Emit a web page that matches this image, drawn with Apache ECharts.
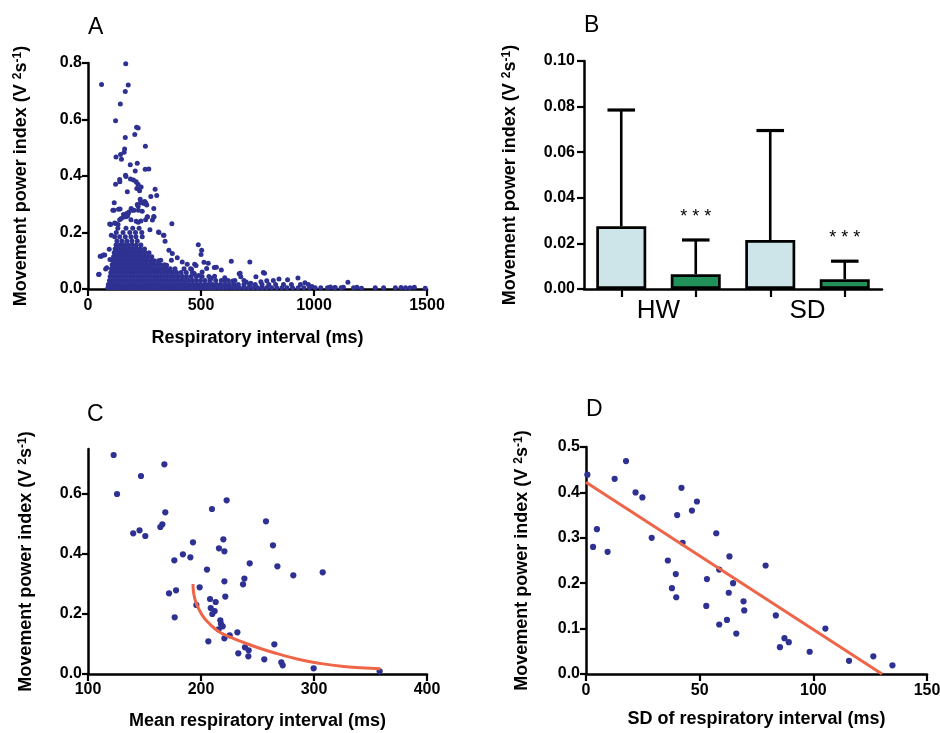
<!DOCTYPE html>
<html>
<head>
<meta charset="utf-8">
<script src="https://cdn.jsdelivr.net/npm/echarts@6/dist/echarts.min.js"></script>
<style>html,body{margin:0;padding:0;background:#fff;}#c{width:940px;height:733px;}</style>
</head>
<body>
<div id="c"></div>
<script>
// ---------- Panel A: individual breaths ----------
const aOutliers = [[167,0.797],[60,0.724],[178,0.722],[165,0.699],[143,0.655],[122,0.596],[215,0.573],[222,0.570],[165,0.536],[207,0.547],[254,0.505],[162,0.496],[160,0.484],[144,0.476],[124,0.467],[148,0.459],[187,0.440],[218,0.445],[253,0.424],[269,0.425],[209,0.418],[166,0.403],[168,0.398],[140,0.388],[141,0.380],[122,0.371],[188,0.389],[201,0.386],[213,0.380],[221,0.371],[216,0.356],[235,0.361],[174,0.344],[297,0.353],[304,0.331],[228,0.348],[231,0.318],[251,0.310],[256,0.304],[238,0.305],[278,0.327],[291,0.285],[116,0.305],[222,0.293],[191,0.285],[197,0.279],[204,0.279],[110,0.279],[135,0.282],[178,0.267],[175,0.258],[168,0.256],[157,0.264],[147,0.250],[263,0.256],[291,0.257],[234,0.241],[222,0.236],[213,0.240],[312,0.202],[334,0.190],[341,0.169],[371,0.231],[96,0.230],[118,0.234],[103,0.190],[54,0.116],[68,0.120],[47,0.051],[94,0.141],[78,0.071],[488,0.157],[503,0.137],[500,0.122],[513,0.095],[532,0.091],[559,0.076],[568,0.077],[634,0.098],[716,0.096],[776,0.058],[669,0.054],[142,0.283],[115,0.279],[100,0.228],[123,0.232],[133,0.228],[159,0.255],[171,0.267],[181,0.273],[218,0.299],[233,0.309],[248,0.303],[260,0.297],[223,0.279],[240,0.275],[262,0.255],[285,0.244],[292,0.255],[274,0.210],[314,0.200],[336,0.190],[59,0.116],[74,0.120],[97,0.104],[49,0.052],[83,0.075],[358,0.137],[373,0.126],[395,0.111],[417,0.096],[439,0.088],[454,0.072],[425,0.072],[322,0.102],[348,0.084],[369,0.102],[472,0.088],[478,0.083],[525,0.073],[590,0.067],[458,0.070],[470,0.055],[490,0.048],[505,0.060],[673,0.056],[676,0.043],[743,0.043],[781,0.056],[765,0.026],[791,0.029],[820,0.030],[845,0.035],[883,0.033],[929,0.039],[960,0.022],[1150,0.024],[1190,0.006],[1271,0.004],[1308,0.004],[1360,0.004],[1385,0.005],[1405,0.004],[1425,0.004],[1444,0.006],[1492,0.003],[991,0.009],[1072,0.007],[1094,0.005],[1130,0.006],[1175,0.004],[1210,0.003],[606,0.030],[640,0.028],[700,0.025],[720,0.020],[605,0.040],[560,0.045],[545,0.038]];
const aCoreY = [0.004,0.016,0.030,0.044,0.058,0.072,0.086,0.100,0.114,0.128,0.142,0.156,0.170,0.185,0.200,0.215,0.245];
const aCoreX = [
  [88,100,112,125,140,155,170,185,200,215,230,245,260,275,290,305,320,335,350,365,380,395,410,425,440,455,470,485,500,515,530,545,560,578,596,615,634,652,670,690,710,730,750,770,790,812,835,858,880,905,930,955,980,1005,1030,1060,1090,1120],
  [90,104,118,132,147,162,177,192,207,222,237,252,267,282,297,312,327,342,357,372,387,402,418,434,450,466,482,498,515,532,550,568,586,605,625,645,665,690,715,740,770,800,830,865,900,940,975],
  [95,110,124,139,154,169,184,199,214,229,244,259,274,289,304,319,334,349,364,380,396,412,428,445,462,480,498,518,540,565,590,620,650,690],
  [98,112,127,142,157,172,187,202,217,232,247,262,277,292,307,322,337,352,368,384,400,418,436,456,478,505,535],
  [101,116,131,146,161,176,191,206,221,236,251,266,281,296,311,326,342,358,374,392,412,435,462],
  [104,119,134,149,164,179,194,209,224,239,254,269,284,299,314,330,346,364,385],
  [107,122,137,152,167,182,197,212,227,242,257,272,287,303,320,338],
  [110,125,140,155,170,185,200,215,230,245,260,276,293,312],
  [113,128,143,158,173,188,203,218,233,248,264,282],
  [116,131,146,161,176,191,206,221,236,252,270],
  [120,136,152,168,184,200,216,232,250],
  [124,142,160,178,196,214,234],
  [128,150,172,194,218],
  [118,140,165,190,212,240],
  [125,155,185,210,238],
  [132,168,198,226],
  [140,190,255]
];

// ---------- Panel B: mean + SD (bar slots 0..3, groups centred between pairs) ----------
const bSlots = [0, 1, 2, 3];
const bGroups = ['HW', 'SD'];
const bGroupPos = [0.5, 2.5];
const bMeans = [0.0275, 0.0065, 0.0215, 0.0043];
const bUpper = [0.0785, 0.0215, 0.0695, 0.0122];
const bStars = ['', '* * *', '', '* * *'];
const bColors = ['#cde5e9', '#219159', '#cde5e9', '#219159'];

// ---------- Panel C: mean interval vs power ----------
const cPoints = [[122.7,0.730],[125.7,0.600],[146.9,0.660],[167.6,0.699],[168.4,0.539],[165.8,0.499],[164,0.490],[140,0.469],[145.6,0.479],[150.7,0.460],[192.9,0.439],[184,0.399],[190.6,0.389],[176.4,0.379],[171.7,0.269],[177.9,0.279],[176.7,0.189],[195.9,0.230],[198.8,0.289],[205.3,0.348],[209.7,0.550],[222.7,0.579],[219.8,0.449],[215.9,0.419],[220.7,0.409],[208,0.250],[213,0.240],[208.6,0.220],[212.1,0.210],[210,0.200],[220.7,0.309],[221.5,0.258],[217.1,0.179],[217.7,0.167],[219.2,0.159],[215.6,0.149],[225.4,0.129],[220.7,0.119],[232.2,0.139],[206.5,0.109],[233,0.069],[238.9,0.089],[242.2,0.079],[241.9,0.059],[256,0.049],[264.9,0.099],[271.1,0.039],[272.3,0.029],[299.7,0.019],[358.1,0.009],[243.1,0.369],[238.4,0.318],[237.2,0.299],[257.5,0.509],[263.7,0.429],[267.6,0.359],[281.7,0.329],[307.7,0.339]];
const cFit = [[192.9,0.300],[193.5,0.270],[195.8,0.236],[200.9,0.197],[206.8,0.170],[215.6,0.142],[225.9,0.123],[237.7,0.105],[252.5,0.085],[267.3,0.068],[285,0.050],[302.7,0.037],[326.2,0.025],[349.8,0.019],[358.7,0.0175]];
const cTicksY = [0, 0.2, 0.4, 0.6];

// ---------- Panel D: SD of interval vs power ----------
const dPoints = [[0.6,0.439],[3.1,0.280],[4.8,0.319],[9.5,0.269],[12.6,0.430],[17.6,0.469],[21.8,0.400],[24.8,0.389],[28.9,0.300],[36,0.250],[37.8,0.189],[39.5,0.220],[39.7,0.169],[40.1,0.350],[42,0.410],[42.5,0.289],[46.6,0.360],[48.8,0.380],[52.9,0.150],[53.2,0.209],[57.3,0.310],[58.6,0.230],[58.6,0.109],[62,0.119],[62.8,0.179],[63.1,0.259],[64.7,0.200],[66.1,0.089],[69.3,0.160],[69.6,0.140],[79,0.239],[83.5,0.129],[85.3,0.059],[87.3,0.079],[89.2,0.070],[98.4,0.049],[105.3,0.100],[115.7,0.029],[126.4,0.039],[134.8,0.019]];
const dFit = [[0,0.4225],[130.2,0]];

const aPoints = aOutliers.slice();
aCoreY.forEach(function (y, i) { aCoreX[i].forEach(function (x) { aPoints.push([x, y]); }); });

const FONT = 'Liberation Sans, Arial, Helvetica, sans-serif';
const BLUE = '#2e3192';
const RED = '#ef6548';

function yName() {
  return '{m|Movement power index (V }{s|2}{m|s}{s|-1}{m|)}';
}
const nameStyle = {
  color: '#000',
  rich: {
    m: { fontSize: 18, fontWeight: 'bold', fontFamily: FONT, color: '#000' },
    s: { fontSize: 12, fontWeight: 'bold', fontFamily: FONT, color: '#000', verticalAlign: 'top' }
  }
};
function axisLine() { return { show: true, onZero: false, lineStyle: { color: '#000', width: 2.5 } }; }
function axisTick(len) { return { show: true, inside: false, length: len || 6, lineStyle: { color: '#000', width: 2.2 } }; }
function label(margin, dec) {
  const o = { color: '#000', fontFamily: FONT, fontWeight: 'bold', fontSize: 16, margin: margin };
  if (dec !== undefined) { o.formatter = function (v) { return Number(v).toFixed(dec); }; }
  else { o.formatter = function (v) { return String(v); }; }
  return o;
}
function panelTitle(t, l, tp) {
  return { text: t, left: l, top: tp, textStyle: { fontSize: 23, fontWeight: 'normal', fontFamily: FONT, color: '#000' } };
}

const chart = echarts.init(document.getElementById('c'), null, { renderer: 'canvas' });
const option = {
  backgroundColor: '#fff',
  animation: false,
  title: [panelTitle('A', 83, 11), panelTitle('B', 579, 9), panelTitle('C', 82, 398), panelTitle('D', 581, 393)],
  grid: [
    { left: 88, top: 63, width: 339, height: 226, outerBoundsMode: 'none' },
    { left: 584, top: 61, width: 298, height: 228, outerBoundsMode: 'none' },
    { left: 88, top: 449, width: 339, height: 225, outerBoundsMode: 'none' },
    { left: 586, top: 447, width: 341, height: 227, outerBoundsMode: 'none' }
  ],
  xAxis: [
    { gridIndex: 0, type: 'value', min: 0, max: 1500, interval: 500, axisLine: axisLine(), axisTick: axisTick(7),
      axisLabel: label(9), splitLine: { show: false },
      name: 'Respiratory interval (ms)', nameLocation: 'middle', nameGap: 40,
      nameTextStyle: { fontSize: 18, fontWeight: 'bold', fontFamily: FONT, color: '#000' } },
    { gridIndex: 1, type: 'value', min: -0.5, max: 3.5, axisLine: axisLine(),
      axisTick: { show: true, length: 8, customValues: bSlots, lineStyle: { color: '#000', width: 2.2 } },
      axisLabel: { show: true, customValues: bGroupPos, color: '#000', fontFamily: FONT, fontSize: 26, margin: 9,
        formatter: function (v) { return bGroups[bGroupPos.indexOf(v)] || ''; } },
      splitLine: { show: false } },
    { gridIndex: 2, type: 'value', min: 100, max: 400, interval: 100, axisLine: axisLine(), axisTick: axisTick(7),
      axisLabel: label(8), splitLine: { show: false },
      name: 'Mean respiratory interval (ms)', nameLocation: 'middle', nameGap: 38,
      nameTextStyle: { fontSize: 18, fontWeight: 'bold', fontFamily: FONT, color: '#000' } },
    { gridIndex: 3, type: 'value', min: 0, max: 150, interval: 50, axisLine: axisLine(), axisTick: axisTick(7),
      axisLabel: label(9), splitLine: { show: false },
      name: 'SD of respiratory interval (ms)', nameLocation: 'middle', nameGap: 36,
      nameTextStyle: { fontSize: 18, fontWeight: 'bold', fontFamily: FONT, color: '#000' } }
  ],
  yAxis: [
    { gridIndex: 0, type: 'value', min: 0, max: 0.8, interval: 0.2, axisLine: axisLine(), axisTick: axisTick(6),
      axisLabel: label(6, 1), splitLine: { show: false },
      name: yName(), nameLocation: 'middle', nameGap: 58, nameRotate: 90, nameTextStyle: nameStyle },
    { gridIndex: 1, type: 'value', min: 0, max: 0.1, interval: 0.02, axisLine: axisLine(), axisTick: axisTick(7),
      axisLabel: label(9, 2), splitLine: { show: false },
      name: yName(), nameLocation: 'middle', nameGap: 65, nameRotate: 90, nameTextStyle: nameStyle },
    { gridIndex: 2, type: 'value', min: 0, max: 0.75, axisLine: axisLine(),
      axisTick: Object.assign(axisTick(6), { customValues: cTicksY }),
      axisLabel: Object.assign(label(6, 1), { customValues: cTicksY }), splitLine: { show: false },
      name: yName(), nameLocation: 'middle', nameGap: 53, nameRotate: 90, nameTextStyle: nameStyle },
    { gridIndex: 3, type: 'value', min: 0, max: 0.5, interval: 0.1, axisLine: axisLine(), axisTick: axisTick(6),
      axisLabel: label(6, 1), splitLine: { show: false },
      name: yName(), nameLocation: 'middle', nameGap: 55, nameRotate: 90, nameTextStyle: nameStyle }
  ],
  series: [
    { type: 'scatter', xAxisIndex: 0, yAxisIndex: 0, data: aPoints, symbolSize: 5,
      itemStyle: { color: BLUE, opacity: 1 }, z: 3, silent: true },
    { type: 'bar', xAxisIndex: 1, yAxisIndex: 1, barWidth: 50,
      data: bMeans.map(function (v, i) { return { value: [bSlots[i], v], itemStyle: { color: bColors[i] } }; }),
      itemStyle: { borderColor: '#000', borderWidth: 2.7 }, z: 2 },
    { type: 'custom', xAxisIndex: 1, yAxisIndex: 1, z: 4,
      data: bMeans.map(function (v, i) { return [bSlots[i], v, bUpper[i]]; }),
      encode: { x: 0, y: [1, 2] },
      renderItem: function (params, api) {
        const i = api.value(0);
        const p0 = api.coord([i, api.value(1)]);
        const p1 = api.coord([i, api.value(2)]);
        const cw = api.size([1, 0])[0] * 0.37;
        const children = [
          { type: 'line', shape: { x1: p0[0], y1: p0[1], x2: p1[0], y2: p1[1] }, style: { stroke: '#000', lineWidth: 2.6 } },
          { type: 'line', shape: { x1: p1[0] - cw / 2, y1: p1[1], x2: p1[0] + cw / 2, y2: p1[1] }, style: { stroke: '#000', lineWidth: 3.2 } }
        ];
        const s = bStars[params.dataIndex];
        if (s) {
          children.push({ type: 'text', style: { text: s, x: p1[0], y: p1[1] - 14, align: 'center', verticalAlign: 'bottom',
            font: '18px ' + FONT, fill: '#000' } });
        }
        return { type: 'group', children: children };
      } },
    { type: 'scatter', xAxisIndex: 2, yAxisIndex: 2, data: cPoints, symbolSize: 6.2,
      itemStyle: { color: BLUE, opacity: 1 }, z: 3 },
    { type: 'line', xAxisIndex: 2, yAxisIndex: 2, data: cFit, smooth: true, symbol: 'none',
      lineStyle: { color: RED, width: 3 }, z: 4 },
    { type: 'scatter', xAxisIndex: 3, yAxisIndex: 3, data: dPoints, symbolSize: 6.2,
      itemStyle: { color: BLUE, opacity: 1 }, z: 3 },
    { type: 'line', xAxisIndex: 3, yAxisIndex: 3, data: dFit, symbol: 'none',
      lineStyle: { color: RED, width: 3 }, z: 4 }
  ]
};
chart.setOption(option);
</script>
</body>
</html>
